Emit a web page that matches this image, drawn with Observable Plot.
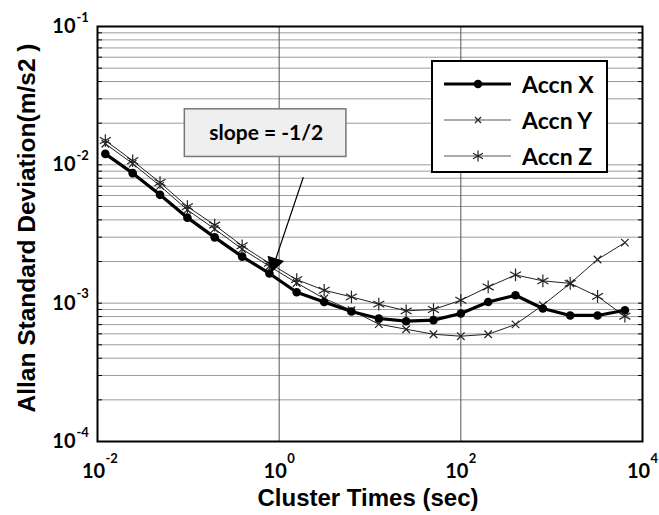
<!DOCTYPE html>
<html>
<head>
<meta charset="utf-8">
<script src="https://cdn.jsdelivr.net/npm/d3@7"></script>
<script src="https://cdn.jsdelivr.net/npm/@observablehq/plot@0.6"></script>
<style>
  body { margin: 0; background: #fff; }
  #wrap { position: relative; width: 659px; height: 515px; }
  #legend {
    position: absolute; left: 431px; top: 60px; width: 177px; height: 113px;
    box-sizing: border-box; border: 2px solid #000; background: #fff;
    font: bold 23px Lato, sans-serif; color: #000;
  }
  #legend .row { position: absolute; left: 0; height: 30px; width: 100%; }
  #legend svg { position: absolute; left: 11px; top: 0; }
  #legend span { position: absolute; left: 89px; top: 0; line-height: 30px; }
</style>
</head>
<body>
<div id="wrap"></div>
<script>
// Averaging (cluster) times in seconds, doubling at each step
const clusterTimes = [0.0122, 0.0244, 0.0488, 0.0977, 0.195, 0.391, 0.781, 1.56, 3.13, 6.25,
                      12.5, 25, 50, 100, 200, 400, 800, 1600, 3200, 6400];

// Allan standard deviation (m/s^2) of each accelerometer axis
const accnX = [0.0120, 0.00871, 0.00607, 0.00415, 0.00299, 0.00217, 0.00164, 0.00120, 0.00102, 0.000870,
               0.000775, 0.000741, 0.000754, 0.000842, 0.00102, 0.00114, 0.000916, 0.000815, 0.000815, 0.000889];
const accnY = [0.0142, 0.0102, 0.00705, 0.00472, 0.00344, 0.00246, 0.00185, 0.00140, 0.00108, 0.000889,
               0.000705, 0.000648, 0.000596, 0.000577, 0.000596, 0.000702, 0.000968, 0.00139, 0.00207, 0.00274];
const accnZ = [0.0150, 0.0107, 0.00745, 0.00499, 0.00367, 0.00260, 0.00194, 0.00148, 0.00124, 0.00111,
               0.000984, 0.000880, 0.000900, 0.00105, 0.00131, 0.00160, 0.00145, 0.00139, 0.00112, 0.000805];

const seriesNames = ["Accn X", "Accn Y", "Accn Z"];

// Decade ticks and their exponents
const xTicks = [1e-2, 1e0, 1e2, 1e4];
const xExponents = ["-2", "0", "2", "4"];
const yTicks = [1e-4, 1e-3, 1e-2, 1e-1];
const yExponents = ["-4", "-3", "-2", "-1"];

// Annotation: slope marker pointing at the white-noise region
const slopeLabel = "slope = -1/2";
const slopeBox = {x1: 0.0915, x2: 5.5, y1: 0.0114, y2: 0.0252, tx: 0.72, ty: 0.0168};
const slopeArrow = {x1: 1.84, y1: 0.0081, x2: 0.84, y2: 0.00176};

// Horizontal grid: every 1..9 multiple inside each decade
const gridY = [];
for (let e = -4; e < -1; e++) for (let k = 1; k < 10; k++) gridY.push(k * Math.pow(10, e));
gridY.push(1e-1);

const rows = (vals) => clusterTimes.map((t, i) => ({t, v: vals[i]}));
const dataX = rows(accnX), dataY = rows(accnY), dataZ = rows(accnZ);

const bold = {fontWeight: "bold"};
const arial = "Liberation Sans, Arial, sans-serif";

const chart = Plot.plot({
  width: 659,
  height: 515,
  marginLeft: 97,
  marginRight: 17,
  marginTop: 26,
  marginBottom: 74,
  style: {fontFamily: "Lato, sans-serif", background: "#fff", color: "#000"},
  x: {type: "log", domain: [1e-2, 1e4]},
  y: {type: "log", domain: [1e-4, 1e-1]},
  marks: [
    // grid
    Plot.ruleY(gridY, {stroke: "#9c9c9c", strokeWidth: 1}),
    Plot.ruleX([1, 100], {stroke: "#555", strokeWidth: 1}),
    // minor ticks pointing inward on both vertical edges
    Plot.axisY({anchor: "left", ticks: gridY, tickSize: -5, tickFormat: () => "", label: null}),
    Plot.axisY({anchor: "right", ticks: gridY, tickSize: -5, tickFormat: () => "", label: null}),
    // decade labels
    Plot.axisY({anchor: "left", ticks: yTicks, tickSize: 0, tickPadding: 22, tickFormat: () => "10",
                fontSize: 20, ...bold, label: null}),
    Plot.text(yTicks, {y: d => d, text: (d, i) => yExponents[i], frameAnchor: "left",
                       dx: -21, dy: -9, textAnchor: "start", lineAnchor: "middle", fontSize: 13, ...bold}),
    Plot.axisX({ticks: xTicks, tickSize: 0, tickPadding: 22, tickFormat: () => "10",
                fontSize: 20, ...bold, dx: -4, label: null}),
    Plot.text(xTicks, {x: d => d, text: (d, i) => xExponents[i], frameAnchor: "bottom",
                       dx: 8, dy: 17, textAnchor: "start", lineAnchor: "middle", fontSize: 13, ...bold}),
    // axis titles
    Plot.text(["Allan Standard Deviation(m/s2 )"], {frameAnchor: "left", dx: -70, dy: -6, rotate: -90,
                       textAnchor: "middle", lineAnchor: "middle", fontSize: 24.5, ...bold, fontFamily: arial}),
    Plot.text(["Cluster Times (sec)"], {frameAnchor: "bottom", dx: -2, dy: 57,
                       textAnchor: "middle", lineAnchor: "middle", fontSize: 24, ...bold, fontFamily: arial}),
    // series
    Plot.line(dataY, {x: "t", y: "v", stroke: "#222", strokeWidth: 1}),
    Plot.dot(dataY, {x: "t", y: "v", symbol: "times", r: 3.5, stroke: "#222", strokeWidth: 1.2}),
    Plot.line(dataZ, {x: "t", y: "v", stroke: "#222", strokeWidth: 1}),
    Plot.dot(dataZ, {x: "t", y: "v", symbol: "asterisk", r: 6, stroke: "#222", strokeWidth: 1.2}),
    Plot.line(dataX, {x: "t", y: "v", stroke: "#000", strokeWidth: 3.2}),
    Plot.dot(dataX, {x: "t", y: "v", r: 4.3, fill: "#000", stroke: "none"}),
    // slope annotation
    Plot.rect([slopeBox], {x1: "x1", x2: "x2", y1: "y1", y2: "y2", fill: "#efefef", stroke: "#777", strokeWidth: 1.5}),
    Plot.text([slopeBox], {x: "tx", y: "ty", text: () => slopeLabel, fontSize: 21, ...bold}),
    Plot.arrow([slopeArrow], {x1: "x1", y1: "y1", x2: "x2", y2: "y2", stroke: "#000", strokeWidth: 1.2,
                              headLength: 14, headAngle: 50, bend: 0}),
    Plot.dot([slopeArrow], {x: "x2", y: "y2", symbol: "triangle", r: 6.5, fill: "#000", rotate: 198, dy: -6, dx: 2}),
    // plot border
    Plot.frame({stroke: "#000", strokeWidth: 2})
  ]
});

const wrap = document.getElementById("wrap");
wrap.appendChild(chart);

// Legend box drawn over the upper-right corner of the axes
const legend = document.createElement("div");
legend.id = "legend";
const sample = {
  "Accn X": `<line x1="0" y1="15" x2="67" y2="15" stroke="#000" stroke-width="3.2"/><circle cx="34" cy="15" r="4.3" fill="#000"/>`,
  "Accn Y": `<line x1="0" y1="15" x2="67" y2="15" stroke="#555" stroke-width="1"/><path d="M31,12L37,18M37,12L31,18" stroke="#222" stroke-width="1.2"/>`,
  "Accn Z": `<line x1="0" y1="15" x2="67" y2="15" stroke="#555" stroke-width="1"/><path d="M34,9.5V20.5M29,12.2L39,17.8M39,12.2L29,17.8" stroke="#222" stroke-width="1.2"/>`
};
const rowTops = [7, 43, 79];
seriesNames.forEach((name, i) => {
  const row = document.createElement("div");
  row.className = "row";
  row.style.top = rowTops[i] + "px";
  row.innerHTML = `<svg width="70" height="30">${sample[name]}</svg><span>${name}</span>`;
  legend.appendChild(row);
});
wrap.appendChild(legend);
</script>
</body>
</html>
